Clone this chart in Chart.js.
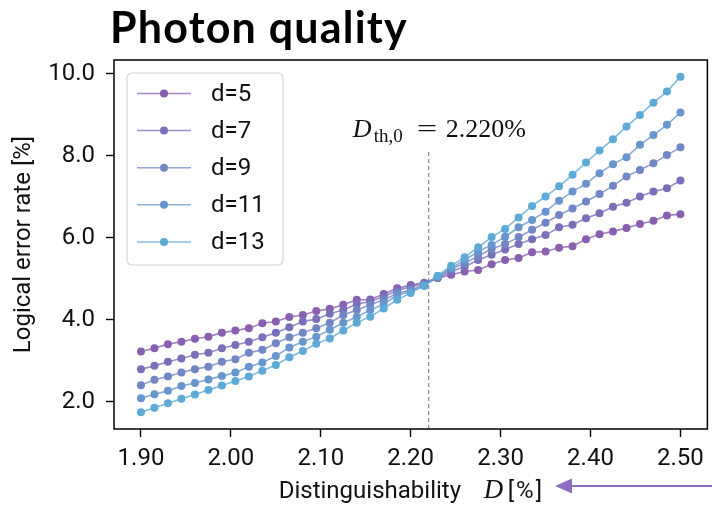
<!DOCTYPE html>
<html>
<head>
<meta charset="utf-8">
<script src="https://cdn.jsdelivr.net/npm/chart.js@4.4.1/dist/chart.umd.min.js"></script>
<style>
  html, body { margin: 0; padding: 0; background: #fff; }
  #wrap { position: relative; width: 712px; height: 507px; }
</style>
</head>
<body>
<div id="wrap"><canvas id="chart"></canvas></div>
<script>
// ---------- Data ----------

const xValues = [1.900, 1.915, 1.930, 1.945, 1.960, 1.975, 1.990, 2.005, 2.020, 2.035,
                 2.050, 2.065, 2.080, 2.095, 2.110, 2.125, 2.140, 2.155, 2.170, 2.185,
                 2.200, 2.215, 2.230, 2.245, 2.260, 2.275, 2.290, 2.305, 2.320, 2.335,
                 2.350, 2.365, 2.380, 2.395, 2.410, 2.425, 2.440, 2.455, 2.470, 2.485, 2.500];

const d5  = [3.23, 3.31, 3.41, 3.47, 3.54, 3.59, 3.69, 3.74, 3.80, 3.92, 3.96, 4.07, 4.12, 4.22,
             4.27, 4.37, 4.49, 4.50, 4.63, 4.77, 4.85, 4.91, 5.02, 5.10, 5.18, 5.22, 5.36, 5.46,
             5.51, 5.65, 5.67, 5.76, 5.80, 5.97, 6.09, 6.16, 6.24, 6.34, 6.42, 6.55, 6.58];
const d7  = [2.80, 2.88, 2.98, 3.06, 3.15, 3.20, 3.31, 3.39, 3.47, 3.58, 3.69, 3.82, 3.96, 4.02,
             4.15, 4.24, 4.39, 4.45, 4.57, 4.72, 4.81, 4.88, 5.02, 5.18, 5.30, 5.46, 5.59, 5.72,
             5.85, 5.97, 6.07, 6.26, 6.32, 6.48, 6.60, 6.76, 6.86, 7.01, 7.13, 7.21, 7.40];
const d9  = [2.41, 2.54, 2.62, 2.72, 2.80, 2.86, 2.98, 3.04, 3.20, 3.27, 3.43, 3.58, 3.69, 3.80,
             3.93, 4.12, 4.24, 4.37, 4.49, 4.65, 4.73, 4.85, 5.04, 5.24, 5.38, 5.56, 5.73, 5.85,
             6.02, 6.20, 6.37, 6.56, 6.72, 6.89, 7.07, 7.27, 7.50, 7.66, 7.82, 8.02, 8.21];
const d11 = [2.09, 2.19, 2.27, 2.39, 2.46, 2.55, 2.63, 2.72, 2.86, 2.96, 3.12, 3.33, 3.47, 3.59,
             3.76, 3.93, 4.07, 4.24, 4.39, 4.61, 4.69, 4.83, 5.06, 5.26, 5.46, 5.67, 5.83, 6.03,
             6.26, 6.44, 6.64, 6.91, 7.13, 7.32, 7.58, 7.80, 7.97, 8.27, 8.51, 8.76, 9.06];
const d13 = [1.75, 1.86, 1.97, 2.08, 2.18, 2.29, 2.40, 2.51, 2.62, 2.76, 2.90, 3.09, 3.24, 3.42,
             3.55, 3.74, 3.93, 4.08, 4.28, 4.49, 4.66, 4.84, 5.08, 5.32, 5.53, 5.77, 6.02, 6.22,
             6.50, 6.78, 7.01, 7.26, 7.54, 7.84, 8.13, 8.41, 8.72, 9.00, 9.30, 9.57, 9.93];

const seriesLabels = ['d=5', 'd=7', 'd=9', 'd=11', 'd=13'];
const seriesValues = [d5, d7, d9, d11, d13];
const seriesColors = ['#8960b0', '#7a70ba', '#7286c4', '#6896cc', '#5eaad6'];

const xTicks = [1.90, 2.00, 2.10, 2.20, 2.30, 2.40, 2.50];
const yTicks = [2.0, 4.0, 6.0, 8.0, 10.0];

const thresholdX = 2.22;
const thresholdTop = 8.1;
const thresholdText = '2.220%';

// ---------- Helpers ----------

const SANS = 'Roboto, "DejaVu Sans", sans-serif';
const SERIF = '"Liberation Serif", "DejaVu Serif", serif';

function withAlpha(hex, a) {
    const n = parseInt(hex.slice(1), 16);
    return `rgba(${(n >> 16) & 255}, ${(n >> 8) & 255}, ${n & 255}, ${a})`;
}

// ---------- Extra drawing (frame, legend, labels, arrow) ----------

const extras = {
    id: 'extras',
    afterDraw(chart) {
        const ctx = chart.ctx;
        const area = chart.chartArea;
        const xs = chart.scales.x;
        const ys = chart.scales.y;
        ctx.save();

        // frame
        ctx.strokeStyle = '#000';
        ctx.lineWidth = 1.5;
        ctx.strokeRect(area.left, area.top, area.right - area.left, area.bottom - area.top);

        // legend box
        const lx = 127, ly = 73, lw = 156, lh = 192;
        ctx.beginPath();
        ctx.roundRect(lx, ly, lw, lh, 5);
        ctx.fillStyle = 'rgba(255,255,255,0.85)';
        ctx.fill();
        ctx.strokeStyle = '#d4d4d4';
        ctx.lineWidth = 1.2;
        ctx.stroke();
        ctx.font = `24px ${SANS}`;
        ctx.textBaseline = 'middle';
        seriesLabels.forEach((label, i) => {
            const ry = 93.5 + i * 37.1;
            ctx.strokeStyle = withAlpha(seriesColors[i], 0.75);
            ctx.lineWidth = 1.5;
            ctx.beginPath();
            ctx.moveTo(137, ry);
            ctx.lineTo(191, ry);
            ctx.stroke();
            ctx.fillStyle = seriesColors[i];
            ctx.beginPath();
            ctx.arc(164, ry, 4, 0, Math.PI * 2);
            ctx.fill();
            ctx.fillStyle = '#111';
            ctx.fillText(label, 211, ry + 1);
        });

        // threshold annotation
        const ax = xs.getPixelForValue(2.1355);
        const ay = ys.getPixelForValue(8.46);
        ctx.textBaseline = 'alphabetic';
        ctx.fillStyle = '#111';
        ctx.font = `italic 26px ${SERIF}`;
        ctx.fillText('D', ax, ay);
        ctx.font = `19px ${SERIF}`;
        ctx.fillText('th,0', ax + 21, ay + 5);
        ctx.font = `26px ${SERIF}`;
        ctx.save();
        ctx.translate(ax + 64, ay);
        ctx.scale(1.4, 1);
        ctx.fillText('=', 0, 0);
        ctx.restore();
        ctx.fillText(thresholdText, ax + 93, ay);

        // x axis title with math D
        const tx = (area.left + area.right) / 2 - 132;
        const tb = 498;
        ctx.font = `24px ${SANS}`;
        ctx.fillText('Distinguishability', tx, tb);
        ctx.font = `italic 27px ${SERIF}`;
        ctx.fillText('D', tx + 205, tb);
        ctx.font = `24px ${SANS}`;
        ctx.letterSpacing = '2px';
        ctx.fillText('[%]', tx + 229, tb);
        ctx.letterSpacing = '0px';

        // title
        ctx.fillStyle = '#000';
        ctx.font = `bold 43px Lato, "Open Sans", sans-serif`;
        ctx.letterSpacing = '1.2px';
        ctx.fillText('Photon quality', 110, 43);
        ctx.letterSpacing = '0px';

        // arrow
        ctx.strokeStyle = '#8e6cc0';
        ctx.fillStyle = '#8e6cc0';
        ctx.lineWidth = 2.2;
        ctx.beginPath();
        ctx.moveTo(570, 486);
        ctx.lineTo(712, 486);
        ctx.stroke();
        ctx.beginPath();
        ctx.moveTo(555, 486);
        ctx.lineTo(572, 478.5);
        ctx.lineTo(572, 493.5);
        ctx.closePath();
        ctx.fill();

        ctx.restore();
    }
};

// ---------- Chart ----------

const datasets = seriesValues.map((vals, i) => ({
    label: seriesLabels[i],
    data: xValues.map((x, j) => ({ x, y: vals[j] })),
    borderColor: withAlpha(seriesColors[i], 0.8),
    backgroundColor: seriesColors[i],
    pointBackgroundColor: seriesColors[i],
    pointBorderWidth: 0,
    pointRadius: 4,
    pointHoverRadius: 4,
    borderWidth: 1.6,
    tension: 0,
    order: seriesLabels.length - i
}));

datasets.push({
    label: 'threshold',
    data: [{ x: thresholdX, y: 1.34 }, { x: thresholdX, y: thresholdTop }],
    borderColor: '#808080',
    borderWidth: 1.1,
    borderDash: [4, 3],
    pointRadius: 0,
    order: 20
});

const tickFont = { family: SANS, size: 24 };

new Chart(document.getElementById('chart'), {
    type: 'line',
    data: { datasets },
    options: {
        responsive: true,
        maintainAspectRatio: false,
        animation: false,
        devicePixelRatio: 1,
        layout: { padding: { top: 60, right: 4, left: 0, bottom: 0 } },
        plugins: {
            legend: { display: false },
            tooltip: { enabled: false }
        },
        scales: {
            x: {
                type: 'linear',
                min: 1.87,
                max: 2.53,
                afterBuildTicks: s => { s.ticks = xTicks.map(v => ({ value: v })); },
                afterFit: s => { s.height = 78; },
                ticks: {
                    callback: v => v.toFixed(2),
                    font: tickFont,
                    color: '#111',
                    padding: 8,
                    maxRotation: 0,
                    autoSkip: false
                },
                grid: { drawOnChartArea: false, drawTicks: true, tickLength: 8, tickColor: '#000', tickWidth: 1.4 },
                border: { display: false }
            },
            y: {
                type: 'linear',
                min: 1.34,
                max: 10.34,
                afterBuildTicks: s => { s.ticks = yTicks.map(v => ({ value: v })); },
                afterFit: s => { s.width = 114; },
                ticks: {
                    callback: v => v.toFixed(1),
                    font: tickFont,
                    color: '#111',
                    padding: 11,
                    autoSkip: false
                },
                title: {
                    display: true,
                    text: 'Logical error rate [%]',
                    font: { family: SANS, size: 24 },
                    color: '#111',
                    padding: { top: 10, bottom: 0 }
                },
                grid: { drawOnChartArea: false, drawTicks: true, tickLength: 8, tickColor: '#000', tickWidth: 1.4 },
                border: { display: false }
            }
        }
    },
    plugins: [extras]
});
</script>
</body>
</html>
